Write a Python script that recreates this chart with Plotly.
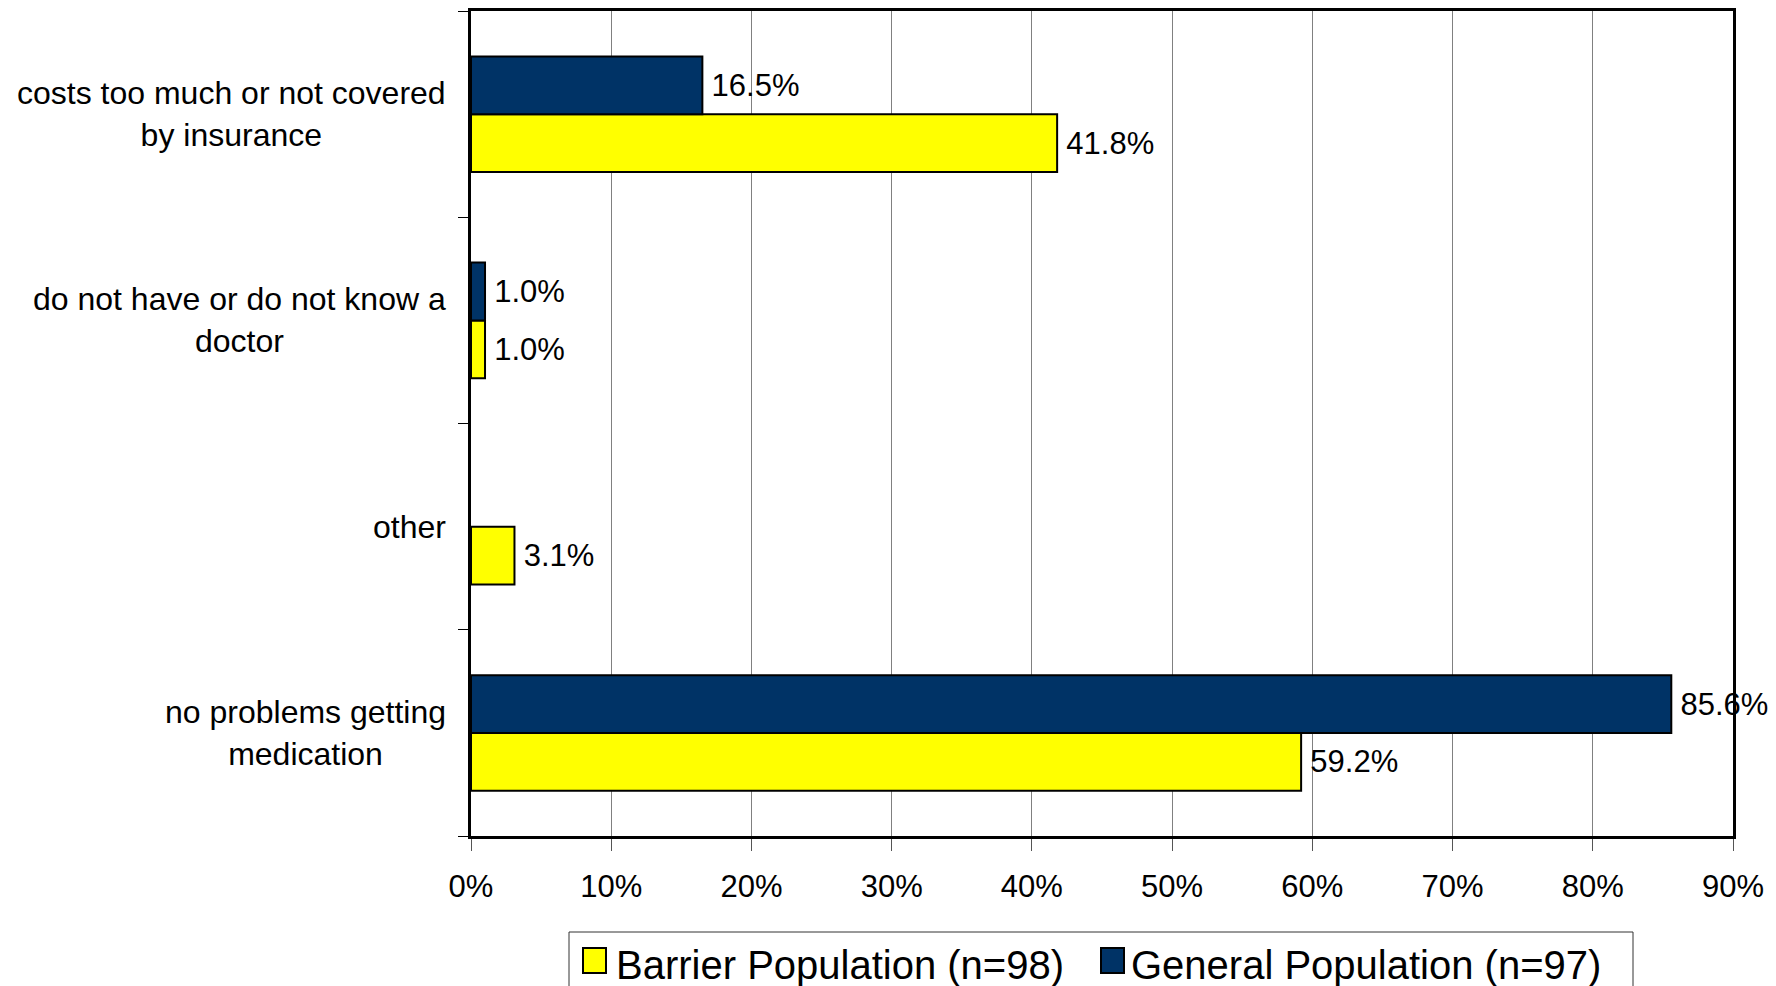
import plotly.graph_objects as go

# Categories listed bottom-to-top
categories = [
    "no problems getting<br>medication",
    "other",
    "do not have or do not know a<br>doctor",
    "costs too much or not covered<br>by insurance",
]
barrier_values = [59.2, 3.1, 1.0, 41.8]
general_values = [85.6, None, 1.0, 16.5]
series_names = ["Barrier Population (n=98)", "General Population (n=97)"]
x_ticks = [0, 10, 20, 30, 40, 50, 60, 70, 80, 90]
x_tick_labels = [f"{v}%" for v in x_ticks]

FONT = "Liberation Sans, Arial, sans-serif"
YELLOW = "#FFFF00"
NAVY = "#003366"
series_colors = [YELLOW, NAVY]

# figure / plot-area geometry (pixels)
W, H = 1768, 978
ML, MR, MT, MB = 463, 43, 3, 150
PW, PH = W - ML - MR, H - MT - MB


def px_x(x):
    return (x - ML) / PW


def px_y(y):
    return (H - MB - y) / PH


fig = go.Figure()
for name, vals, col in zip(series_names, [barrier_values, general_values], series_colors):
    fig.add_trace(go.Bar(
        y=categories, x=vals, name=name, orientation="h",
        marker=dict(color=col, line=dict(color="black", width=2)),
        texttemplate="\u2009%{x:.1f}%", textposition="outside",
        textfont=dict(family=FONT, size=31, color="black"),
        cliponaxis=False, constraintext="none", showlegend=False,
    ))

# category labels as annotations (centered multi-line)
for c in categories:
    fig.add_annotation(
        x=0, xref="paper", y=c, yref="y", text=c, showarrow=False,
        xanchor="right", yanchor="middle", align="center", xshift=-23,
        font=dict(family=FONT, size=32, color="black"),
    )

# legend (box, swatches, labels)
fig.add_shape(type="rect", xref="paper", yref="paper",
              x0=px_x(561), x1=px_x(1625), y0=px_y(924), y1=px_y(1000),
              line=dict(color="#333333", width=1), fillcolor="white", layer="above")
legend_items = [(575, 607), (1093, 1122)]
for (sx, tx), name, col in zip(legend_items, series_names, series_colors):
    fig.add_shape(type="rect", xref="paper", yref="paper",
                  x0=px_x(sx), x1=px_x(sx + 23), y0=px_y(940), y1=px_y(965),
                  line=dict(color="black", width=2), fillcolor=col, layer="above")
    fig.add_annotation(x=px_x(tx), xref="paper", y=px_y(957), yref="paper",
                       text=name, showarrow=False, xanchor="left", yanchor="middle",
                       borderpad=0, font=dict(family=FONT, size=40, color="black"))

fig.update_layout(
    width=W, height=H, autosize=False,
    margin=dict(l=ML, r=MR, t=MT, b=MB, autoexpand=False),
    paper_bgcolor="white", plot_bgcolor="white",
    barmode="group", bargap=0.44, bargroupgap=0,
    font=dict(family=FONT, size=31, color="black"),
    showlegend=False,
    xaxis=dict(
        range=[0, 90], tickvals=x_ticks, ticktext=x_tick_labels,
        showgrid=True, gridcolor="#808080", gridwidth=1,
        showline=True, linecolor="black", linewidth=3, mirror=True,
        ticks="outside", ticklen=12, tickcolor="#555555", tickwidth=1,
        ticklabelstandoff=9, zeroline=False,
        tickfont=dict(family=FONT, size=31, color="black"),
    ),
    yaxis=dict(
        categoryorder="array", categoryarray=categories,
        showticklabels=False, tickson="boundaries",
        ticks="outside", ticklen=10, tickcolor="black", tickwidth=1,
        showline=True, linecolor="black", linewidth=3, mirror=True,
        showgrid=False, zeroline=False,
    ),
)

fig.write_html("out.html")
